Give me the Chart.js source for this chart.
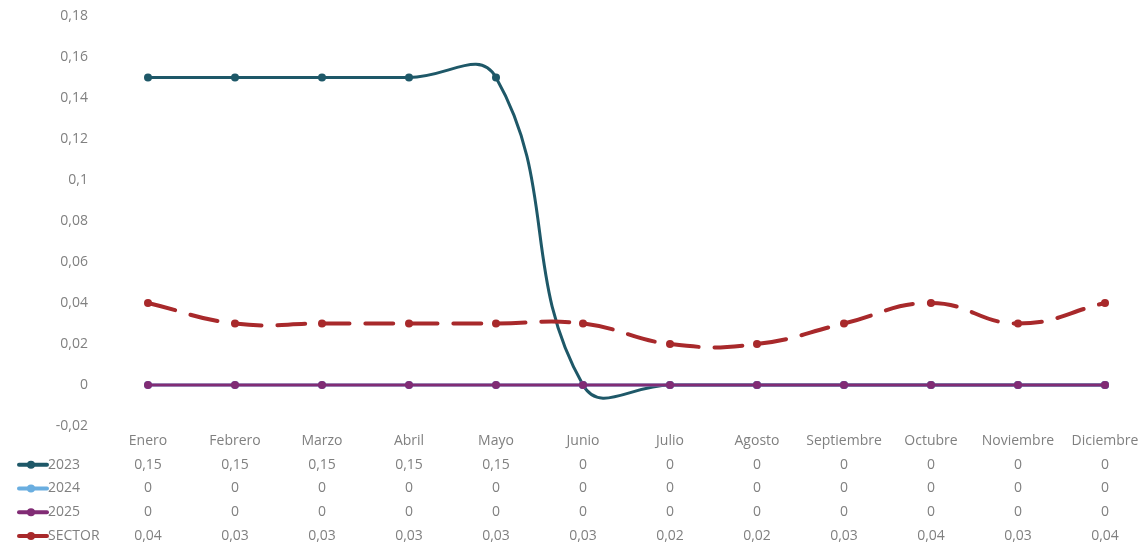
<!DOCTYPE html>
<html>
<head>
<meta charset="utf-8">
<script src="https://cdn.jsdelivr.net/npm/chart.js@4/dist/chart.umd.min.js"></script>
<style>
  body { margin: 0; background: #fff; }
  #wrap { width: 1144px; height: 547px; position: relative; }
</style>
</head>
<body>
<div id="wrap"><canvas id="chart"></canvas></div>
<script>
// ================= DATA =================

const months = ["Enero", "Febrero", "Marzo", "Abril", "Mayo", "Junio", "Julio",
    "Agosto", "Septiembre", "Octubre", "Noviembre", "Diciembre"];

const values2023 = [0.15, 0.15, 0.15, 0.15, 0.15, 0, 0, 0, 0, 0, 0, 0];
const values2024 = [0, 0, 0, 0, 0, 0, 0, 0, 0, 0, 0, 0];
const values2025 = [0, 0, 0, 0, 0, 0, 0, 0, 0, 0, 0, 0];
const valuesSector = [0.04, 0.03, 0.03, 0.03, 0.03, 0.03, 0.02, 0.02, 0.03, 0.04, 0.03, 0.04];

const yMin = -0.02;
const yMax = 0.18;
const yStep = 0.02;

// ================= HELPERS =================

const textColor = "#808080";
const fontFamily = "'Open Sans', Lato, sans-serif";
const fontSize = 14;
const rowHeight = 23.75;
const xPad = 3;

function fmt(v) {
    return String(+v.toFixed(2)).replace(".", ",");
}

const series = [
    { label: "2023", data: values2023, color: "#1e5868", width: 3, dash: [], order: 4 },
    { label: "2024", data: values2024, color: "#6aaee0", width: 3, dash: [], order: 3 },
    { label: "2025", data: values2025, color: "#812c75", width: 3, dash: [], order: 2 },
    { label: "SECTOR", data: valuesSector, color: "#a8292b", width: 4, dash: [28, 16], order: 1 },
];

// legend keys in front of the data table rows
const tableLegend = {
    id: "tableLegend",
    afterDraw(chart) {
        const ctx = chart.ctx;
        const xs = chart.scales.x;
        ctx.save();
        ctx.font = fontSize + "px " + fontFamily;
        ctx.textBaseline = "middle";
        ctx.textAlign = "left";
        series.forEach((s, k) => {
            const y = xs.top + xPad + rowHeight * (k + 1.5);
            ctx.strokeStyle = s.color;
            ctx.lineWidth = 4;
            ctx.lineCap = "round";
            ctx.beginPath();
            ctx.moveTo(19, y);
            ctx.lineTo(47, y);
            ctx.stroke();
            ctx.fillStyle = s.color;
            ctx.beginPath();
            ctx.arc(31, y, 4, 0, Math.PI * 2);
            ctx.fill();
            ctx.fillStyle = textColor;
            ctx.fillText(s.label, 48, y);
        });
        ctx.restore();
    },
};

// ================= CHART =================

new Chart(document.getElementById("chart"), {
    type: "line",
    data: {
        labels: months,
        datasets: series.map((s) => ({
            label: s.label,
            data: s.data,
            order: s.order,
            borderColor: s.color,
            backgroundColor: s.color,
            borderWidth: s.width,
            borderDash: s.dash,
            borderCapStyle: "round",
            tension: 0.45,
            pointRadius: 4,
            pointBorderWidth: 0,
            pointBackgroundColor: s.color,
            fill: false,
        })),
    },
    options: {
        responsive: true,
        maintainAspectRatio: false,
        animation: false,
        layout: { padding: { top: 16, right: 39, left: 0, bottom: 0 } },
        plugins: {
            legend: { display: false },
            tooltip: { enabled: false },
        },
        scales: {
            x: {
                offset: false,
                grid: { display: false, drawTicks: false },
                border: { display: false },
                afterFit: (scale) => { scale.height = 121; },
                ticks: {
                    autoSkip: false,
                    maxRotation: 0,
                    padding: xPad,
                    color: textColor,
                    font: { family: fontFamily, size: fontSize, lineHeight: rowHeight / fontSize },
                    callback: (val, i) => [
                        months[i],
                        fmt(values2023[i]),
                        fmt(values2024[i]),
                        fmt(values2025[i]),
                        fmt(valuesSector[i]),
                    ],
                },
            },
            y: {
                min: yMin,
                max: yMax,
                grid: { display: false, drawTicks: false },
                border: { display: false },
                afterFit: (scale) => {
                    scale.width = 148;
                    // the big tick padding should not push the plot down
                    scale.paddingTop = 9;
                    scale.paddingBottom = 9;
                },
                ticks: {
                    stepSize: yStep,
                    padding: 60,
                    color: textColor,
                    font: { family: fontFamily, size: fontSize },
                    callback: (v) => fmt(v),
                },
            },
        },
    },
    plugins: [tableLegend],
});
</script>
</body>
</html>
